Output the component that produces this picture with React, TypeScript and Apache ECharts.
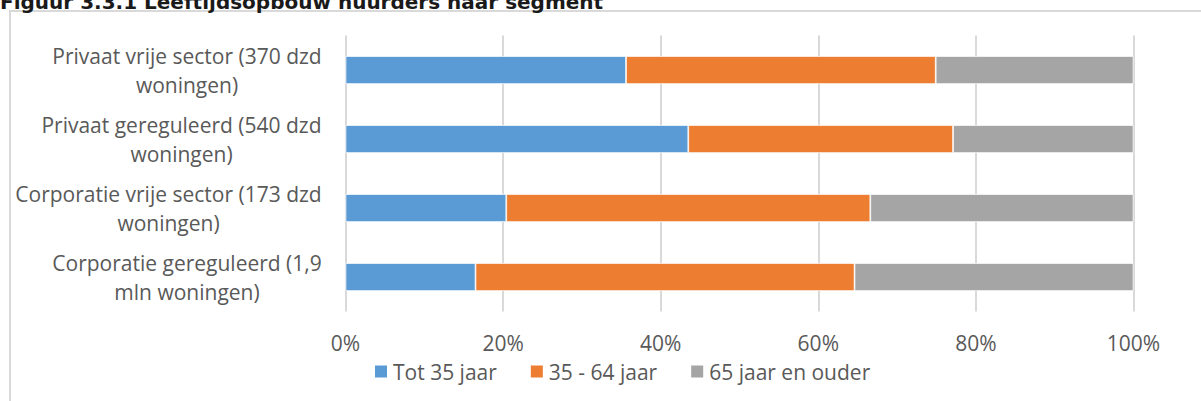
import React, { useEffect, useRef } from "react";
import * as echarts from "echarts";

const categories = [
  "Privaat vrije sector (370 dzd\nwoningen)",
  "Privaat gereguleerd (540 dzd\nwoningen)",
  "Corporatie vrije sector (173 dzd\nwoningen)",
  "Corporatie gereguleerd (1,9\nmln woningen)",
];
const seriesNames = ["Tot 35 jaar", "35 - 64 jaar", "65 jaar en ouder"];
const tot35 = [35.6, 43.5, 20.4, 16.5];
const mid35to64 = [39.3, 33.6, 46.2, 48.1];
const over65 = [25.1, 22.9, 33.4, 35.4];
const colors = ["#5B9BD5", "#ED7D31", "#A5A5A5"];
const titleText = "Figuur 3.3.1 Leeftijdsopbouw huurders naar segment";

const FONT = "'Open Sans', 'Noto Sans', sans-serif";
const LABEL_SIZE = 21;

function measure(text: string): number {
  const c = document.createElement("canvas").getContext("2d");
  if (!c) return text.length * 10;
  c.font = `${LABEL_SIZE}px 'Open Sans'`;
  return c.measureText(text).width;
}

export default function App() {
  const ref = useRef<HTMLDivElement>(null);
  useEffect(() => {
    if (!ref.current) return;
    const chart = echarts.init(ref.current, null, { renderer: "svg" });
    const values = [tot35, mid35to64, over65];
    const rich: Record<string, any> = {};
    categories.forEach((cat, i) => {
      const w = Math.max(...cat.split("\n").map(measure));
      rich["l" + i] = {
        width: Math.ceil(w) + 1,
        align: "center",
        color: "#595959",
        fontSize: LABEL_SIZE,
        fontFamily: FONT,
        lineHeight: 29,
      };
    });
    chart.setOption({
      animation: false,
      backgroundColor: "#ffffff",
      textStyle: { fontFamily: FONT },
      graphic: [
        {
          type: "rect",
          shape: { x: 10, y: 11, width: 1200, height: 400 },
          style: { fill: "none", stroke: "#d9d9d9", lineWidth: 2 },
          silent: true,
        },
        {
          type: "text",
          x: 0,
          y: 12,
          style: {
            text: titleText,
            fill: "#1a1a1a",
            font: "bold 20px 'DejaVu Sans', Verdana, sans-serif",
            verticalAlign: "bottom",
            align: "left",
          },
          silent: true,
        },
      ],
      grid: { left: 345.5, right: 67.5, top: 35.5, bottom: 89.5, containLabel: false },
      legend: {
        data: seriesNames,
        left: 373,
        top: 361,
        padding: 0,
        itemWidth: 14,
        itemHeight: 14,
        itemGap: 32,
        icon: "rect",
        textStyle: { color: "#595959", fontSize: 21, fontFamily: FONT },
      },
      xAxis: {
        type: "value",
        min: 0,
        max: 100,
        interval: 20,
        axisLine: { show: false },
        axisTick: { show: false },
        splitLine: { show: true, lineStyle: { color: "#d9d9d9", width: 2 } },
        axisLabel: {
          formatter: (v: number) => v + "%",
          color: "#595959",
          fontSize: 21,
          fontFamily: FONT,
          margin: 21,
        },
      },
      yAxis: {
        type: "category",
        data: categories,
        inverse: true,
        axisLine: { show: false },
        axisTick: { show: false },
        axisLabel: {
          color: "#595959",
          fontSize: LABEL_SIZE,
          fontFamily: FONT,
          lineHeight: 29,
          margin: 23,
          align: "right",
          formatter: (val: string, idx: number) =>
            val
              .split("\n")
              .map((line) => `{l${idx}|${line}}`)
              .join("\n"),
          rich,
        },
      },
      series: seriesNames.map((name, i) => ({
        name,
        type: "bar",
        stack: "total",
        barWidth: 28,
        data: values[i],
        itemStyle: { color: colors[i], borderColor: "#ffffff", borderWidth: 0.75 },
      })),
    });
    return () => chart.dispose();
  }, []);
  return (
    <div
      ref={ref}
      style={{ position: "fixed", left: 0, top: 0, width: 1201, height: 401 }}
    />
  );
}
